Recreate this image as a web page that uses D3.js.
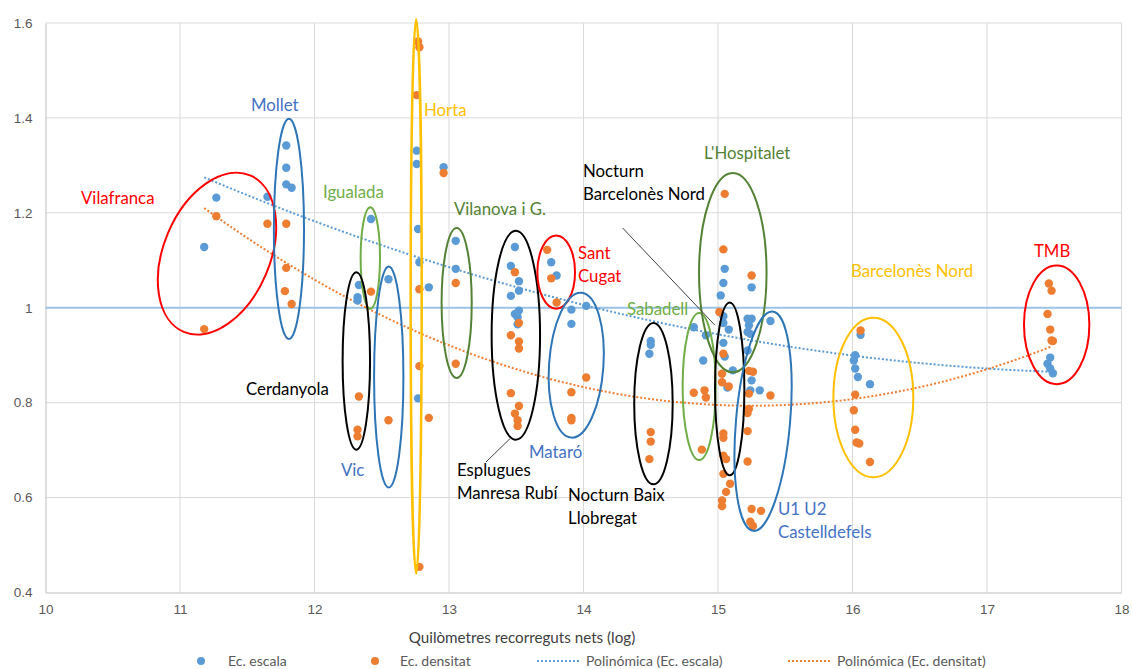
<!DOCTYPE html>
<html>
<head>
<meta charset="utf-8">
<script src="https://cdn.jsdelivr.net/npm/d3@7"></script>
<style>
  body { margin: 0; background: #fff; }
  svg { font-family: "Lato", "Open Sans", sans-serif; }
</style>
</head>
<body>
<div id="chart"></div>
<script>
// Ec. escala (blue) points: [log km, value]
var escala = [
  [11.27,1.232],[11.18,1.128],
  [11.65,1.234],[11.79,1.342],[11.79,1.295],[11.79,1.260],[11.83,1.253],
  [12.42,1.187],
  [12.33,1.048],[12.32,1.022],[12.32,1.015],
  [12.55,1.060],
  [12.76,1.331],[12.76,1.303],[12.96,1.296],[12.77,1.166],[12.78,1.096],[12.85,1.043],[12.77,0.809],
  [13.05,1.141],[13.05,1.082],
  [13.49,1.128],[13.46,1.088],[13.52,1.056],[13.52,1.036],[13.46,1.025],[13.52,0.994],[13.49,0.987],[13.51,0.980],[13.51,0.965],
  [13.76,1.096],[13.80,1.068],
  [14.02,1.004],[13.91,0.996],[13.91,0.966],
  [14.50,0.930],[14.50,0.922],[14.49,0.903],
  [14.82,0.959],[14.91,0.942],[14.89,0.889],
  [15.05,1.082],[15.04,1.052],[15.02,1.026],[15.25,1.043],
  [15.04,0.982],[15.04,0.968],[15.08,0.954],[15.04,0.926],[15.05,0.897],[15.11,0.868],[15.07,0.832],
  [15.22,0.977],[15.25,0.977],[15.23,0.963],[15.22,0.949],[15.24,0.945],[15.22,0.910],[15.39,0.972],
  [15.25,0.847],[15.24,0.826],[15.31,0.826],
  [16.06,0.943],[16.02,0.900],[16.01,0.889],[16.02,0.872],[16.04,0.854],[16.13,0.839],
  [17.47,0.895],[17.45,0.882],[17.47,0.872],[17.49,0.862]
];

// Ec. densitat (orange) points
var densitat = [
  [11.27,1.193],[11.18,0.955],
  [11.65,1.177],[11.79,1.177],[11.79,1.084],[11.78,1.035],[11.83,1.008],
  [12.42,1.034],
  [12.33,0.813],[12.32,0.743],[12.32,0.729],
  [12.55,0.763],
  [12.77,1.561],[12.78,1.549],[12.76,1.448],[12.96,1.284],[12.78,1.039],[12.78,0.877],[12.85,0.768],[12.78,0.454],
  [13.05,1.052],[13.05,0.882],
  [13.49,1.075],[13.52,0.968],[13.46,0.942],[13.52,0.929],[13.52,0.914],[13.46,0.820],[13.52,0.793],[13.49,0.777],[13.51,0.763],[13.51,0.751],
  [13.73,1.122],[13.76,1.062],[13.80,1.011],
  [14.02,0.853],[13.91,0.822],[13.91,0.768],[13.91,0.763],
  [14.50,0.738],[14.50,0.718],[14.49,0.681],
  [14.82,0.821],[14.90,0.826],[14.91,0.811],[14.88,0.701],
  [15.05,1.240],[15.04,1.123],[15.25,1.068],[15.01,0.991],
  [15.04,0.903],[15.03,0.861],[15.03,0.843],[15.08,0.834],[15.04,0.735],[15.04,0.726],[15.04,0.688],[15.06,0.681],
  [15.04,0.650],[15.09,0.629],[15.06,0.612],[15.03,0.594],[15.03,0.582],
  [15.23,0.867],[15.26,0.865],[15.23,0.819],[15.39,0.815],[15.23,0.787],[15.22,0.778],[15.22,0.740],[15.22,0.676],
  [15.25,0.576],[15.32,0.572],[15.24,0.549],[15.26,0.540],
  [16.06,0.952],[16.02,0.817],[16.01,0.784],[16.02,0.743],[16.03,0.716],[16.05,0.714],[16.13,0.675],
  [17.46,1.051],[17.48,1.036],[17.45,0.987],[17.47,0.954],[17.48,0.931],[17.49,0.930]
];

var xTicks = [10, 11, 12, 13, 14, 15, 16, 17, 18];
var yTicks = [0.4, 0.6, 0.8, 1.0, 1.2, 1.4, 1.6];
var refValue = 1;

// group ellipses: name, centre, half sizes (data units), colour, rotation
var groups = [
  ["Vilafranca", 11.275, 1.114, 0.632, 0.112, "#ff0000", -67],
  ["Mollet", 11.810, 1.166, 0.112, 0.232, "#2e75b6", 0],
  ["Igualada", 12.415, 1.105, 0.072, 0.107, "#70ad47", 0],
  ["Cerdanyola", 12.311, 0.888, 0.102, 0.187, "#000000", 0],
  ["Vic", 12.552, 0.854, 0.109, 0.233, "#2e75b6", 0],
  ["Horta", 12.756, 1.024, 0.041, 0.584, "#ffc000", 0],
  ["Vilanova i G.", 13.057, 1.010, 0.112, 0.158, "#548235", 0],
  ["Esplugues", 13.497, 0.942, 0.180, 0.220, "#000000", 0],
  ["Sant Cugat", 13.797, 1.075, 0.140, 0.077, "#ff0000", 0],
  ["Mataró", 13.946, 0.879, 0.202, 0.153, "#2e75b6", 4],
  ["Nocturn Baix Llobregat", 14.520, 0.798, 0.143, 0.170, "#000000", 0],
  ["Sabadell", 14.860, 0.834, 0.123, 0.155, "#70ad47", 0],
  ["L'Hospitalet", 15.110, 1.074, 0.251, 0.210, "#548235", 0],
  ["Nocturn Barcelonès Nord", 15.087, 0.829, 0.109, 0.182, "#000000", 0],
  ["U1 U2 Castelldefels", 15.335, 0.761, 0.201, 0.232, "#2e75b6", 5],
  ["Barcelonès Nord", 16.155, 0.811, 0.297, 0.168, "#ffc000", 0],
  ["TMB", 17.518, 0.964, 0.243, 0.125, "#ff0000", 0]
];

// labels: lines, x, y of first baseline (data units), colour
var labels = [
  [["Vilafranca"], 10.264, 1.219, "#ff0000"],
  [["Mollet"], 11.528, 1.414, "#4472c4"],
  [["Igualada"], 12.063, 1.231, "#70ad47"],
  [["Horta"], 12.814, 1.404, "#ffc000"],
  [["Vilanova i G."], 13.037, 1.195, "#548235"],
  [["Sant", "Cugat"], 13.959, 1.103, "#ff0000"],
  [["Nocturn", "Barcelonès Nord"], 13.996, 1.275, "#000000"],
  [["L'Hospitalet"], 14.896, 1.313, "#548235"],
  [["Barcelonès Nord"], 15.989, 1.065, "#ffc000"],
  [["TMB"], 17.349, 1.107, "#ff0000"],
  [["Sabadell"], 14.323, 0.985, "#70ad47"],
  [["Cerdanyola"], 11.491, 0.816, "#000000"],
  [["Vic"], 12.197, 0.646, "#4472c4"],
  [["Esplugues", "Manresa Rubí"], 13.059, 0.646, "#000000"],
  [["Mataró"], 13.595, 0.684, "#4472c4"],
  [["Nocturn Baix", "Llobregat"], 13.885, 0.593, "#000000"],
  [["U1 U2", "Castelldefels"], 15.446, 0.564, "#4472c4"]
];

var leaders = [
  [13.453, 0.724, 13.275, 0.675],
  [14.291, 1.168, 14.978, 0.963]
];

var width = 1132, height = 669;

var svg = d3.select("#chart").append("svg")
  .attr("width", width)
  .attr("height", height);

var x = d3.scaleLinear().domain([10, 18]).range([45.5, 1121.5]);
var y = d3.scaleLinear().domain([0.4, 1.6]).range([592.5, 23]);

// gridlines
svg.append("g")
  .selectAll("line.h")
  .data(yTicks.slice(1))
  .enter().append("line")
  .attr("x1", x(10)).attr("x2", x(18))
  .attr("y1", function(d) { return y(d); })
  .attr("y2", function(d) { return y(d); })
  .attr("stroke", "#d9d9d9").attr("stroke-width", 1);

svg.append("g")
  .selectAll("line.v")
  .data(xTicks.slice(1))
  .enter().append("line")
  .attr("x1", function(d) { return x(d); })
  .attr("x2", function(d) { return x(d); })
  .attr("y1", y(1.6)).attr("y2", y(0.4))
  .attr("stroke", "#d9d9d9").attr("stroke-width", 1);

// axes
var xAxis = d3.axisBottom(x).tickValues(xTicks).tickSize(0).tickPadding(12)
  .tickFormat(d3.format("d"));
var yAxis = d3.axisLeft(y).tickValues(yTicks).tickSize(0).tickPadding(13)
  .tickFormat(function(d) { return d === 1 ? "1" : d3.format(".1f")(d); });

var gx = svg.append("g")
  .attr("transform", "translate(0," + y(0.4) + ")")
  .call(xAxis);
gx.select(".domain").attr("stroke", "#bfbfbf");
gx.selectAll("text").attr("fill", "#595959").style("font-size", "13.5px");

var gy = svg.append("g")
  .attr("transform", "translate(" + x(10) + ",0)")
  .call(yAxis);
gy.select(".domain").attr("stroke", "#bfbfbf");
gy.selectAll("text").attr("fill", "#595959").style("font-size", "13.5px");

svg.append("text")
  .attr("x", 522)
  .attr("y", 643)
  .attr("text-anchor", "middle")
  .attr("fill", "#404040")
  .style("font-size", "15.2px")
  .text("Quilòmetres recorreguts nets (log)");

// reference line at 1
svg.append("line")
  .attr("x1", x(10)).attr("x2", x(18))
  .attr("y1", y(refValue)).attr("y2", y(refValue))
  .attr("stroke", "#9dc3e6").attr("stroke-width", 2);

// quadratic least squares, like an Excel order 2 trendline
function polyFit(pts) {
  var s = [0, 0, 0, 0, 0], t = [0, 0, 0];
  pts.forEach(function(p) {
    var xi = p[0], yi = p[1];
    for (var k = 0; k < 5; k++) s[k] += Math.pow(xi, k);
    for (var k = 0; k < 3; k++) t[k] += yi * Math.pow(xi, k);
  });
  var A = [[s[0], s[1], s[2], t[0]], [s[1], s[2], s[3], t[1]], [s[2], s[3], s[4], t[2]]];
  for (var i = 0; i < 3; i++) {
    for (var j = i + 1; j < 3; j++) {
      var f = A[j][i] / A[i][i];
      for (var k = i; k < 4; k++) A[j][k] -= f * A[i][k];
    }
  }
  var c = [0, 0, 0];
  for (var i = 2; i >= 0; i--) {
    var v = A[i][3];
    for (var k = i + 1; k < 3; k++) v -= A[i][k] * c[k];
    c[i] = v / A[i][i];
  }
  return c;
}

function trend(pts, color) {
  var c = polyFit(pts);
  var ext = d3.extent(pts, function(p) { return p[0]; });
  var xs = d3.range(ext[0], ext[1] + 0.001, 0.05);
  var line = d3.line()
    .x(function(d) { return x(d); })
    .y(function(d) { return y(c[0] + c[1] * d + c[2] * d * d); });
  svg.append("path")
    .datum(xs)
    .attr("d", line)
    .attr("fill", "none")
    .attr("stroke", color)
    .attr("stroke-width", 2)
    .attr("stroke-dasharray", "2,2");
}

trend(escala, "#5b9bd5");
trend(densitat, "#ed7d31");

// points
svg.append("g").selectAll("circle")
  .data(escala)
  .enter().append("circle")
  .attr("cx", function(d) { return x(d[0]); })
  .attr("cy", function(d) { return y(d[1]); })
  .attr("r", 4.2)
  .attr("fill", "#5b9bd5");

svg.append("g").selectAll("circle")
  .data(densitat)
  .enter().append("circle")
  .attr("cx", function(d) { return x(d[0]); })
  .attr("cy", function(d) { return y(d[1]); })
  .attr("r", 4.2)
  .attr("fill", "#ed7d31");

// group ellipses
svg.append("g").selectAll("ellipse")
  .data(groups)
  .enter().append("ellipse")
  .attr("cx", 0).attr("cy", 0)
  .attr("rx", function(d) { return x(d[1] + d[3]) - x(d[1]); })
  .attr("ry", function(d) { return y(d[2] - d[4]) - y(d[2]); })
  .attr("transform", function(d) {
    return "translate(" + x(d[1]) + "," + y(d[2]) + ") rotate(" + d[6] + ")";
  })
  .attr("fill", "none")
  .attr("stroke", function(d) { return d[5]; })
  .attr("stroke-width", function(d) { return d[0] === "Horta" ? 2.5 : 2; });

// leader lines
svg.append("g").selectAll("line")
  .data(leaders)
  .enter().append("line")
  .attr("x1", function(d) { return x(d[0]); })
  .attr("y1", function(d) { return y(d[1]); })
  .attr("x2", function(d) { return x(d[2]); })
  .attr("y2", function(d) { return y(d[3]); })
  .attr("stroke", "#404040")
  .attr("stroke-width", 1);

// labels
var lab = svg.append("g").selectAll("text")
  .data(labels)
  .enter().append("text")
  .attr("x", function(d) { return x(d[1]); })
  .attr("y", function(d) { return y(d[2]); })
  .attr("fill", function(d) { return d[3]; })
  .style("font-size", "16.8px");

lab.selectAll("tspan")
  .data(function(d) { return d[0].map(function(t) { return { t: t, x: x(d[1]) }; }); })
  .enter().append("tspan")
  .attr("x", function(d) { return d.x; })
  .attr("dy", function(d, i) { return i === 0 ? 0 : 23; })
  .text(function(d) { return d.t; });

// legend
var legend = svg.append("g").attr("transform", "translate(0,661)");
legend.append("circle").attr("cx", 201).attr("cy", 0).attr("r", 4).attr("fill", "#5b9bd5");
legend.append("text").attr("x", 228).attr("y", 5).text("Ec. escala");
legend.append("circle").attr("cx", 375).attr("cy", 0).attr("r", 4).attr("fill", "#ed7d31");
legend.append("text").attr("x", 400).attr("y", 5).text("Ec. densitat");
legend.append("line").attr("x1", 537).attr("x2", 579).attr("y1", 0).attr("y2", 0)
  .attr("stroke", "#5b9bd5").attr("stroke-width", 2).attr("stroke-dasharray", "2,2");
legend.append("text").attr("x", 586).attr("y", 5).text("Polinómica (Ec. escala)");
legend.append("line").attr("x1", 788).attr("x2", 830).attr("y1", 0).attr("y2", 0)
  .attr("stroke", "#ed7d31").attr("stroke-width", 2).attr("stroke-dasharray", "2,2");
legend.append("text").attr("x", 837).attr("y", 5).text("Polinómica (Ec. densitat)");
legend.selectAll("text").attr("fill", "#595959").style("font-size", "14px");
</script>
</body>
</html>
